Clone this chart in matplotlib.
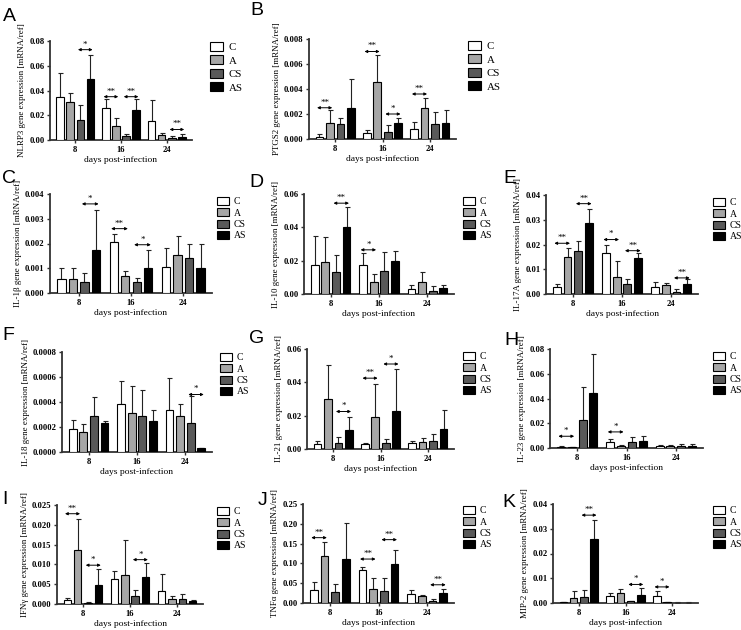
import matplotlib
matplotlib.use("Agg")
import matplotlib.pyplot as plt
from matplotlib.patches import Patch
from matplotlib.ticker import FormatStrFormatter, MultipleLocator
import numpy as np

W, H = 741, 630
fig = plt.figure(figsize=(W / 100, H / 100), dpi=100)

groups = ["C", "A", "CS", "AS"]
days = ["8", "16", "24"]
colors = ["#ffffff", "#a6a6a6", "#595959", "#000000"]

# ---- data: means and (mean + error) per group [C, A, CS, AS] x days [8, 16, 24]
nlrp3_mean = [[0.035, 0.026, 0.015], [0.031, 0.011, 0.004], [0.016, 0.003, 0.0015], [0.049, 0.024, 0.0025]]
nlrp3_top = [[0.054, 0.033, 0.032], [0.038, 0.018, 0.006], [0.028, 0.005, 0.003], [0.069, 0.033, 0.0045]]
nlrp3_sig = [(0, 2, 3, 0.073, "*"), (1, 0, 1, 0.035, "**"), (1, 2, 3, 0.035, "**"), (2, 2, 3, 0.0085, "**")]

ptgs2_mean = [[0.0002, 0.0005, 0.0008], [0.0013, 0.0046, 0.0025], [0.0012, 0.0006, 0.0012], [0.0025, 0.0013, 0.0013]]
ptgs2_top = [[0.0004, 0.0007, 0.0014], [0.0023, 0.0067, 0.0033], [0.0017, 0.0011, 0.0022], [0.0048, 0.0017, 0.0023]]
ptgs2_sig = [(0, 0, 1, 0.0025, "**"), (1, 0, 1, 0.007, "**"), (1, 2, 3, 0.002, "*"), (2, 0, 1, 0.0036, "**")]

il1b_mean = [[0.00055, 0.00207, 0.00105], [0.00057, 0.00068, 0.00153], [0.00045, 0.00043, 0.00143], [0.00175, 0.00103, 0.00102]]
il1b_top = [[0.0010, 0.0024, 0.0018], [0.00103, 0.00087, 0.0023], [0.0008, 0.0006, 0.00197], [0.00335, 0.00173, 0.00197]]
il1b_sig = [(0, 2, 3, 0.0036, "*"), (1, 0, 1, 0.0026, "**"), (1, 2, 3, 0.00195, "*")]

il10_mean = [[0.0175, 0.0175, 0.003], [0.019, 0.007, 0.007], [0.0135, 0.014, 0.002], [0.0405, 0.020, 0.0035]]
il10_top = [[0.035, 0.0245, 0.0055], [0.0345, 0.012, 0.0135], [0.0235, 0.025, 0.005], [0.0525, 0.026, 0.0055]]
il10_sig = [(0, 2, 3, 0.0545, "**"), (1, 0, 1, 0.0265, "*")]

il17a_mean = [[0.003, 0.0165, 0.003], [0.015, 0.0068, 0.0035], [0.0175, 0.004, 0.001], [0.0285, 0.0145, 0.004]]
il17a_top = [[0.004, 0.020, 0.005], [0.0185, 0.0133, 0.0045], [0.0215, 0.006, 0.002], [0.0345, 0.0165, 0.006]]
il17a_sig = [(0, 0, 1, 0.0205, "**"), (0, 2, 3, 0.0365, "**"), (1, 0, 1, 0.022, "*"), (1, 2, 3, 0.0175, "**"), (2, 2, 3, 0.0065, "**")]

il18_mean = [[0.000185, 0.000385, 0.000335], [0.00016, 0.000315, 0.000285], [0.00029, 0.00029, 0.000235], [0.000235, 0.000245, 0.00003]]
il18_top = [[0.00026, 0.00057, 0.000595], [0.000225, 0.000525, 0.000385], [0.00044, 0.0005, 0.000445], [0.00025, 0.000335, 0.00003]]
il18_sig = [(2, 2, 3, 0.00046, "*")]

il21_mean = [[0.0033, 0.0028, 0.0034], [0.030, 0.0193, 0.0043], [0.0035, 0.0035, 0.0048], [0.0112, 0.023, 0.0118]]
il21_top = [[0.0047, 0.0035, 0.005], [0.0505, 0.039, 0.0068], [0.0072, 0.0058, 0.0093], [0.0195, 0.048, 0.0237]]
il21_sig = [(0, 2, 3, 0.0225, "*"), (1, 0, 1, 0.0425, "**"), (1, 2, 3, 0.051, "*")]

il23_mean = [[0.001, 0.005, 0.0015], [0.0005, 0.0015, 0.0015], [0.023, 0.005, 0.002], [0.0445, 0.0055, 0.002]]
il23_top = [[0.0015, 0.0075, 0.0025], [0.001, 0.0025, 0.0025], [0.0495, 0.0085, 0.0035], [0.076, 0.010, 0.003]]
il23_sig = [(0, 0, 1, 0.0095, "*"), (1, 0, 1, 0.013, "*")]

ifng_mean = [[0.001, 0.0064, 0.0033], [0.0137, 0.0073, 0.0012], [0.0003, 0.002, 0.0012], [0.0049, 0.0067, 0.0007]]
ifng_top = [[0.0014, 0.0083, 0.0075], [0.0215, 0.0161, 0.002], [0.0004, 0.0035, 0.0025], [0.0089, 0.0103, 0.0009]]
ifng_sig = [(0, 0, 1, 0.0228, "**"), (0, 2, 3, 0.0098, "*"), (1, 2, 3, 0.0112, "*")]

tnfa_mean = [[0.034, 0.084, 0.022], [0.118, 0.035, 0.018], [0.028, 0.030, 0.005], [0.110, 0.098, 0.025]]
tnfa_top = [[0.052, 0.092, 0.032], [0.155, 0.062, 0.020], [0.048, 0.063, 0.010], [0.202, 0.133, 0.035]]
tnfa_sig = [(0, 0, 1, 0.165, "**"), (1, 0, 1, 0.111, "**"), (1, 2, 3, 0.160, "**"), (2, 2, 3, 0.046, "**")]

mip2_mean = [[0.0003, 0.0027, 0.0027], [0.002, 0.004, 0.0005], [0.0023, 0.0007, 0.0002], [0.026, 0.0032, 0.0002]]
mip2_top = [[0.0005, 0.0039, 0.0047], [0.005, 0.0055, 0.0006], [0.0054, 0.001, 0.0003], [0.0337, 0.006, 0.0003]]
mip2_sig = [(0, 2, 3, 0.0355, "**"), (1, 2, 3, 0.0075, "*"), (2, 0, 1, 0.0065, "*")]

# ---- panel definitions
panels = [
    ("A", "NLRP3 gene expression [mRNA/ref]", nlrp3_mean, nlrp3_top, nlrp3_sig, 0.08, 0.02, 2, (50, 41, 192, 140), (3, 8), (210, 42), 11.3),
    ("B", "PTGS2 gene expression [mRNA/ref]", ptgs2_mean, ptgs2_top, ptgs2_sig, 0.008, 0.002, 3, (309, 39, 456, 139), (250, 2), (468, 41), 11.3),
    ("C", "IL-1\u03b2 gene expression [mRNA/ref]", il1b_mean, il1b_top, il1b_sig, 0.004, 0.001, 3, (50, 194, 212, 293), (2, 170), (217, 197), 9.0),
    ("D", "IL-10 gene expression [mRNA/ref]", il10_mean, il10_top, il10_sig, 0.06, 0.02, 2, (304, 194, 454, 294), (249, 174), (463, 197), 9.0),
    ("E", "IL-17A gene expression [mRNA/ref]", il17a_mean, il17a_top, il17a_sig, 0.04, 0.01, 2, (546, 195, 698, 294), (503, 170), (713, 198), 9.0),
    ("F", "IL-18 gene expression [mRNA/ref]", il18_mean, il18_top, il18_sig, 0.0008, 0.0002, 4, (62, 352, 212, 452), (2, 327), (220, 353), 9.0),
    ("G", "IL-21 gene expression [mRNA/ref]", il21_mean, il21_top, il21_sig, 0.06, 0.02, 2, (307, 349, 454, 449), (249, 330), (463, 352), 9.0),
    ("H", "IL-23 gene expression [mRNA/ref]", il23_mean, il23_top, il23_sig, 0.08, 0.02, 2, (550, 349, 703, 448), (504, 332), (713, 352), 9.0),
    ("I", "IFN\u03b3 gene expression [mRNA/ref]", ifng_mean, ifng_top, ifng_sig, 0.025, 0.005, 3, (57, 505, 203, 604), (2, 491), (217, 507), 9.0),
    ("J", "TNF\u03b1 gene expression [mRNA/ref]", tnfa_mean, tnfa_top, tnfa_sig, 0.25, 0.05, 2, (303, 504, 454, 603), (258, 492), (463, 506), 9.0),
    ("K", "MIP-2 gene expression [mRNA/ref]", mip2_mean, mip2_top, mip2_sig, 0.04, 0.01, 2, (553, 504, 698, 603), (502, 494), (713, 506), 9.0),
]

SERIF = "Liberation Serif"
SANS = "Liberation Sans"
spine_col = "#333333"
offs = [-0.33, -0.11, 0.11, 0.33]
bw = 0.16
xg = np.arange(len(days))

for (letter, ylab, means, tops, sigs, ymax, ystep, dec, box, lpos, legpos, legsp) in panels:
    x0, y0, x1, y1 = box
    ax = fig.add_axes([x0 / W, 1 - y1 / H, (x1 - x0) / W, (y1 - y0) / H])
    for i, g in enumerate(groups):
        m = np.array(means[i])
        t = np.array(tops[i])
        xs = xg + offs[i]
        ax.bar(xs, m, width=bw, color=colors[i], edgecolor="black", linewidth=0.8, zorder=3)
        ax.errorbar(xs, m, yerr=[np.zeros_like(m), t - m], fmt="none", ecolor="#222222",
                    elinewidth=0.8, capsize=1.8, capthick=0.8, zorder=2)
    for (d, a, b, yv, lab) in sigs:
        xa = xg[d] + offs[a] - 0.05
        xb = xg[d] + offs[b] + 0.05
        ax.annotate("", xy=(xa, yv), xytext=(xb, yv),
                    arrowprops=dict(arrowstyle="<|-|>", lw=0.7, color="black",
                                    mutation_scale=4, shrinkA=0, shrinkB=0), zorder=4)
        ax.text((xa + xb) / 2, yv + ymax * 0.012, lab, ha="center", va="bottom",
                fontsize=6.5, family=SERIF, zorder=4)
    ax.set_xlim(-0.55, 2.55)
    ax.set_ylim(0, ymax)
    ax.yaxis.set_major_locator(MultipleLocator(ystep))
    ax.yaxis.set_major_formatter(FormatStrFormatter("%%.%df" % dec))
    ax.set_xticks(xg)
    ax.set_xticklabels(days)
    for s in ["top", "right"]:
        ax.spines[s].set_visible(False)
    for s in ["left", "bottom"]:
        ax.spines[s].set_color(spine_col)
        ax.spines[s].set_linewidth(1.3)
    ax.tick_params(axis="both", direction="out", length=2.5, width=1.0, color=spine_col, pad=1.5)
    for lbl in ax.get_xticklabels() + ax.get_yticklabels():
        lbl.set_fontfamily(SERIF)
        lbl.set_fontweight("bold")
        lbl.set_fontsize(6.2)
    ax.set_ylabel(ylab, fontsize=6.4, family=SERIF, labelpad=2)
    ax.set_xlabel("days post-infection", fontsize=6.8, family=SERIF, labelpad=1.5)
    fig.text(lpos[0] / W, 1 - lpos[1] / H, letter, ha="left", va="top", fontsize=14, family=SANS)
    handles = [Patch(facecolor=colors[i], edgecolor="black", linewidth=0.8, label=g) for i, g in enumerate(groups)]
    fs = 7.8 if legsp > 10 else 7.0
    fig.legend(handles=handles, loc="upper left", bbox_to_anchor=(legpos[0] / W, 1 - legpos[1] / H),
               frameon=False, prop={"family": SERIF, "size": fs}, handlelength=1.2, handleheight=0.9,
               handletextpad=0.5, labelspacing=0.3 if legsp > 10 else 0.2, borderpad=0, borderaxespad=0)

fig.savefig("out.png", dpi=100)
